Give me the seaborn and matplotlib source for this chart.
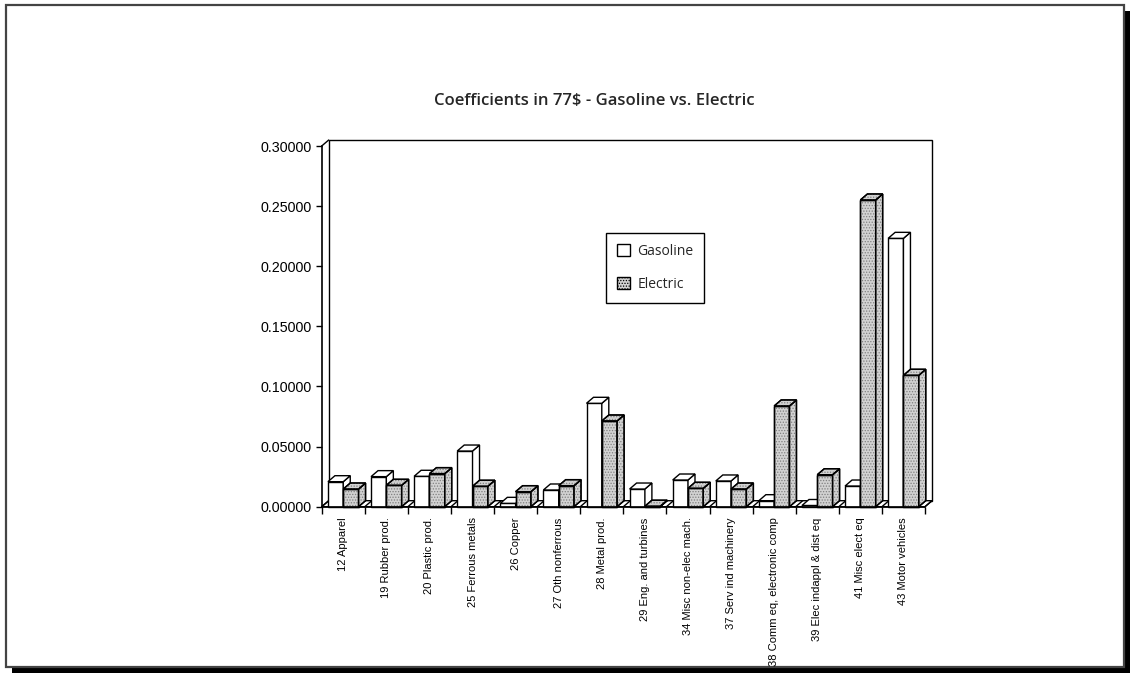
import numpy as np
import pandas as pd
import matplotlib
matplotlib.use("Agg")
import matplotlib.pyplot as plt
import seaborn as sns
from matplotlib.patches import Polygon, Rectangle, Patch
from matplotlib.lines import Line2D
from matplotlib.transforms import IdentityTransform

# ---- data -------------------------------------------------------------
sectors = [
    "12 Apparel", "19 Rubber prod.", "20 Plastic prod.", "25 Ferrous metals",
    "26 Copper", "27 Oth nonferrous", "28 Metal prod.", "29 Eng. and turbines",
    "34 Misc non-elec mach.", "37 Serv ind machinery",
    "38 Comm eq, electronic comp", "39 Elec indappl & dist eq",
    "41 Misc elect eq", "43 Motor vehicles",
]
gasoline = [0.0208, 0.0250, 0.0253, 0.0463, 0.0028, 0.0139, 0.0860,
            0.0147, 0.0222, 0.0214, 0.0050, 0.0010, 0.0172, 0.2232]
electric = [0.0147, 0.0178, 0.0275, 0.0170, 0.0125, 0.0175, 0.0713,
            0.0004, 0.0153, 0.0147, 0.0838, 0.0266, 0.2551, 0.1093]
series = ["Gasoline", "Electric"]
y_ticks = [0.0, 0.05, 0.10, 0.15, 0.20, 0.25, 0.30]
title = "Coefficients in 77$ - Gasoline vs. Electric"

df = pd.DataFrame({
    "sector": sectors * 2,
    "fuel": [series[0]] * len(sectors) + [series[1]] * len(sectors),
    "value": gasoline + electric,
})

# ---- styling ----------------------------------------------------------
sns.set_style("white")
plt.rcParams["font.family"] = ["Liberation Sans", "DejaVu Sans"]
plt.rcParams["hatch.linewidth"] = 0.6
W, H = 1130, 673
DX, DY = 7, 6          # depth offset of the pseudo-3D walls and bars (px)
colors = {"Gasoline": "#ffffff", "Electric": "#d2d2d2"}
STIPPLE = "......"
STIPPLE_COLOR = "#808080"

fig = plt.figure(figsize=(W / 100, H / 100), dpi=100)
fig.patch.set_facecolor("white")

# page frame with drop shadow
fig.patches.append(Rectangle((12, 0), W - 12, H - 11, transform=IdentityTransform(),
                             facecolor="black", edgecolor="none", zorder=-3))
fig.patches.append(Rectangle((6, 6), 1118, 662, transform=IdentityTransform(),
                             facecolor="white", edgecolor="#444444", lw=1.6, zorder=-2))

ax = fig.add_axes([321.7 / W, (H - 506.7) / H, 603.3 / W, 360.7 / H])
ax.patch.set_visible(False)

sns.barplot(data=df, x="sector", y="value", hue="fuel", order=sectors,
            hue_order=series, palette=colors, width=0.71, saturation=1,
            edgecolor="black", linewidth=1, legend=False, ax=ax)

ax.set_xlim(-0.5, len(sectors) - 0.5)
ax.set_ylim(0, 0.30)

L, B = ax.transData.transform((-0.5, 0))
R, T = ax.transData.transform((len(sectors) - 0.5, 0.30))
ident = IdentityTransform()

# back wall, floor and left-wall edge
ax.add_patch(Rectangle((L + DX, B + DY), R - L, T - B, transform=ident,
                       facecolor="white", edgecolor="black", lw=1, zorder=0.5,
                       clip_on=False))
ax.add_patch(Polygon([(L, B), (R, B), (R + DX, B + DY), (L + DX, B + DY)],
                     closed=True, transform=ident, facecolor="white",
                     edgecolor="black", lw=1, zorder=1, clip_on=False))
for k in np.arange(-0.5, len(sectors), 1.0):
    xb = ax.transData.transform((k, 0))[0]
    ax.add_line(Line2D([xb, xb + DX], [B, B + DY], transform=ident,
                       color="black", lw=1, zorder=1, clip_on=False))
ax.add_line(Line2D([L, L + DX], [T, T + DY], transform=ident,
                   color="black", lw=1, zorder=1, clip_on=False))


def add_face(verts, fc, z, stipple):
    ax.add_patch(Polygon(verts, closed=True, transform=ident, facecolor=fc,
                         edgecolor="black", lw=1, zorder=z, clip_on=False))
    if stipple:
        ax.add_patch(Polygon(verts, closed=True, transform=ident, fill=False,
                             edgecolor=STIPPLE_COLOR, lw=0, hatch=STIPPLE,
                             zorder=z, clip_on=False))
        ax.add_patch(Polygon(verts, closed=True, transform=ident, fill=False,
                             edgecolor="black", lw=1, zorder=z, clip_on=False))


# each bar becomes a box: front, side and top faces
n = len(sectors)
bars = [p for p in ax.patches if isinstance(p, Rectangle) and p.get_width() < 1]
for i, p in enumerate(bars):
    stipple = i >= n
    z = 3 if stipple else 2
    x0, y0 = p.get_x(), p.get_y()
    (X0, Y0) = ax.transData.transform((x0, y0))
    (X1, Y1) = ax.transData.transform((x0 + p.get_width(), y0 + p.get_height()))
    fc = p.get_facecolor()
    p.set_visible(False)
    add_face([(X0, Y0), (X1, Y0), (X1, Y1), (X0, Y1)], fc, z, stipple)
    add_face([(X1, Y0), (X1 + DX, Y0 + DY), (X1 + DX, Y1 + DY), (X1, Y1)], fc, z, stipple)
    add_face([(X0, Y1), (X1, Y1), (X1 + DX, Y1 + DY), (X0 + DX, Y1 + DY)], fc, z, stipple)

# axes, ticks and labels
for s in ("top", "right"):
    ax.spines[s].set_visible(False)
for s in ("left", "bottom"):
    ax.spines[s].set_color("black")
    ax.spines[s].set_linewidth(1.2)
    ax.spines[s].set_zorder(4)

ax.set_yticks(y_ticks)
ax.set_yticklabels([f"{v:.5f}" for v in y_ticks])
ax.tick_params(axis="y", direction="out", length=4.3, width=1, pad=2.8,
               labelsize=10.3, colors="black", left=True)
ax.set_xticks(range(n))
ax.set_xticklabels(sectors, rotation=90, va="top", ha="center")
ax.set_xticks(np.arange(-0.5, n, 1.0), minor=True)
ax.tick_params(axis="x", which="major", length=0, pad=7.6, labelsize=8,
               colors="black")
ax.tick_params(axis="x", which="minor", direction="out", length=5, width=1,
               bottom=True, colors="black")
ax.set_xlabel("")
ax.set_ylabel("")

fig.text(594 / W, 1 - 101 / H, title, ha="center", va="center",
         fontsize=12, fontweight="semibold", family=["Open Sans", "DejaVu Sans"])

handles = [Patch(facecolor=colors[s], edgecolor="black", lw=1, label=s,
                 hatch=(STIPPLE if s == "Electric" else None)) for s in series]
leg = ax.legend(handles=handles, loc="upper left",
                bbox_to_anchor=(606 / W, 1 - 233 / H), bbox_transform=fig.transFigure,
                frameon=True, fancybox=False, framealpha=1, edgecolor="black",
                borderpad=0.8, handlelength=0.95, handleheight=0.95,
                handletextpad=0.5, labelspacing=1.3, borderaxespad=0,
                prop={"family": ["Open Sans", "DejaVu Sans"], "size": 10})
leg.get_frame().set_linewidth(1)
leg.set_zorder(5)

fig.savefig("out.png", dpi=100)
